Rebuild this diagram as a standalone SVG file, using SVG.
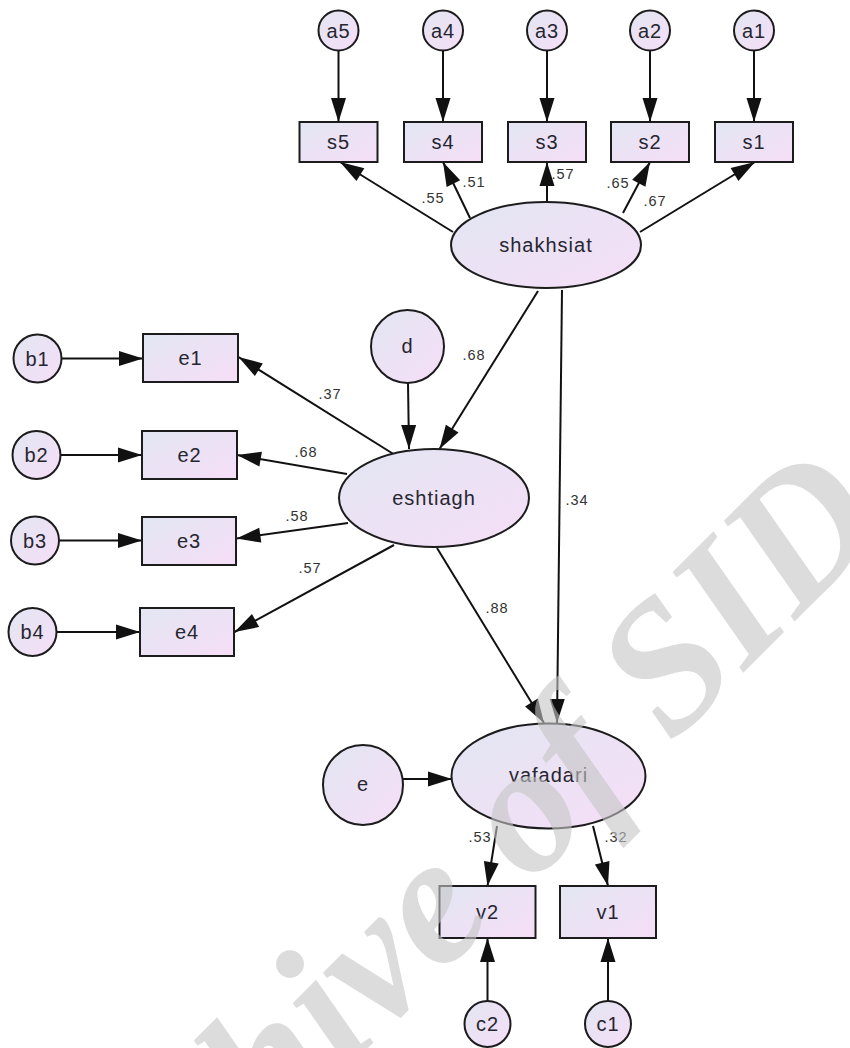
<svg xmlns="http://www.w3.org/2000/svg" width="850" height="1048" viewBox="0 0 850 1048">
<defs>
<linearGradient id="fill" x1="0" y1="0" x2="1" y2="1">
<stop offset="0" stop-color="#e2e6f2"/>
<stop offset="1" stop-color="#f6def7"/>
</linearGradient>
<marker id="arr" markerUnits="userSpaceOnUse" markerWidth="25" markerHeight="16" refX="24" refY="7.5" orient="auto" overflow="visible">
<path d="M0,0 L24,7.5 L0,15 Z" fill="#111"/>
</marker>
</defs>
<style>
.n{fill:url(#fill);stroke:#1c1c1c;stroke-width:2}
.t{font-family:"Liberation Sans",Arial,sans-serif;font-size:20px;fill:#262630;text-anchor:middle;letter-spacing:1px}
.c line{stroke:#111;stroke-width:2;marker-end:url(#arr)}
.l{font-family:"Liberation Sans",Arial,sans-serif;font-size:14.5px;fill:#333;text-anchor:middle;letter-spacing:1px}
.wm{font-family:"Liberation Serif","Times New Roman",serif;font-size:185px;font-weight:bold;font-style:italic;fill:#c4c4c4;fill-opacity:0.6}
</style>
<rect width="850" height="1048" fill="#fff"/>

<g id="connectors" class="c">
<line x1="338.5" y1="50.5" x2="338.5" y2="122"/>
<line x1="443" y1="50.5" x2="443" y2="122"/>
<line x1="547" y1="50.5" x2="547" y2="122"/>
<line x1="650" y1="50.5" x2="650" y2="122"/>
<line x1="754" y1="50.5" x2="754" y2="122"/>
<line x1="453" y1="232" x2="340" y2="162"/>
<line x1="470" y1="218" x2="443" y2="162"/>
<line x1="547" y1="202" x2="547" y2="162"/>
<line x1="623" y1="213" x2="650" y2="162"/>
<line x1="640" y1="232" x2="755" y2="162"/>
<line x1="61.5" y1="358.5" x2="143" y2="358.5"/>
<line x1="60.5" y1="455" x2="142" y2="455"/>
<line x1="59" y1="540.5" x2="142" y2="540.5"/>
<line x1="56.5" y1="632" x2="140" y2="632"/>
<line x1="408" y1="383" x2="409" y2="449"/>
<line x1="395" y1="455" x2="238.5" y2="357"/>
<line x1="347" y1="474" x2="237" y2="455"/>
<line x1="348" y1="523" x2="236.5" y2="538.5"/>
<line x1="394" y1="545" x2="234.5" y2="632"/>
<line x1="538" y1="291" x2="439.5" y2="449"/>
<line x1="562" y1="290" x2="557" y2="723"/>
<line x1="437" y1="548" x2="544" y2="723"/>
<line x1="403" y1="779" x2="452" y2="779"/>
<line x1="497" y1="826" x2="487.5" y2="886"/>
<line x1="593" y1="826" x2="608" y2="886"/>
<line x1="487.5" y1="1001" x2="487.5" y2="938"/>
<line x1="608" y1="1001" x2="608" y2="938"/>
</g>

<g id="coef-labels">
<text class="l" x="433" y="203">.55</text>
<text class="l" x="474" y="187">.51</text>
<text class="l" x="563" y="179">.57</text>
<text class="l" x="618" y="188">.65</text>
<text class="l" x="655" y="206">.67</text>
<text class="l" x="330" y="399">.37</text>
<text class="l" x="306" y="457">.68</text>
<text class="l" x="297" y="521">.58</text>
<text class="l" x="310" y="573">.57</text>
<text class="l" x="474" y="360">.68</text>
<text class="l" x="577" y="505">.34</text>
<text class="l" x="497" y="613">.88</text>
<text class="l" x="480" y="842">.53</text>
<text class="l" x="616" y="842">.32</text>
</g>

<g id="a5"><circle class="n" cx="338.5" cy="30.5" r="20"/><text class="t" x="338.5" y="37.5">a5</text></g>
<g id="a4"><circle class="n" cx="443" cy="30.5" r="20"/><text class="t" x="443" y="37.5">a4</text></g>
<g id="a3"><circle class="n" cx="547" cy="30.5" r="20"/><text class="t" x="547" y="37.5">a3</text></g>
<g id="a2"><circle class="n" cx="650" cy="30.5" r="20"/><text class="t" x="650" y="37.5">a2</text></g>
<g id="a1"><circle class="n" cx="754" cy="30.5" r="20"/><text class="t" x="754" y="37.5">a1</text></g>

<g id="s5"><rect class="n" x="299.5" y="122" width="78" height="40"/><text class="t" x="338.5" y="149">s5</text></g>
<g id="s4"><rect class="n" x="404" y="122" width="78" height="40"/><text class="t" x="443" y="149">s4</text></g>
<g id="s3"><rect class="n" x="508" y="122" width="78" height="40"/><text class="t" x="547" y="149">s3</text></g>
<g id="s2"><rect class="n" x="611" y="122" width="78" height="40"/><text class="t" x="650" y="149">s2</text></g>
<g id="s1"><rect class="n" x="715" y="122" width="78" height="40"/><text class="t" x="754" y="149">s1</text></g>

<g id="shakhsiat"><ellipse class="n" cx="546" cy="245" rx="95" ry="43"/><text class="t" x="546" y="252">shakhsiat</text></g>

<g id="b1"><circle class="n" cx="37.5" cy="358.5" r="24"/><text class="t" x="37.5" y="365.5">b1</text></g>
<g id="b2"><circle class="n" cx="36.5" cy="455" r="24"/><text class="t" x="36.5" y="462">b2</text></g>
<g id="b3"><circle class="n" cx="35" cy="540.5" r="24"/><text class="t" x="35" y="547.5">b3</text></g>
<g id="b4"><circle class="n" cx="32.5" cy="632" r="24"/><text class="t" x="32.5" y="639">b4</text></g>

<g id="e1"><rect class="n" x="143" y="334" width="95" height="48"/><text class="t" x="190.5" y="365">e1</text></g>
<g id="e2"><rect class="n" x="142" y="431" width="95" height="48"/><text class="t" x="189.5" y="462">e2</text></g>
<g id="e3"><rect class="n" x="142" y="517" width="94" height="48"/><text class="t" x="189" y="548">e3</text></g>
<g id="e4"><rect class="n" x="140" y="608" width="94" height="48"/><text class="t" x="187" y="639">e4</text></g>

<g id="d"><circle class="n" cx="407.5" cy="346.5" r="36.5"/><text class="t" x="407.5" y="353">d</text></g>

<g id="eshtiagh"><ellipse class="n" cx="434" cy="498" rx="95" ry="49"/><text class="t" x="434" y="505">eshtiagh</text></g>

<g id="e"><circle class="n" cx="363" cy="785" r="40"/><text class="t" x="363" y="791">e</text></g>

<g id="vafadari"><ellipse class="n" cx="548.5" cy="776" rx="97" ry="52.5"/><text class="t" x="548.5" y="782">vafadari</text></g>

<g id="v2"><rect class="n" x="439.5" y="886" width="96" height="52"/><text class="t" x="487.5" y="919">v2</text></g>
<g id="v1"><rect class="n" x="560" y="886" width="96" height="52"/><text class="t" x="608" y="919">v1</text></g>

<g id="c2"><circle class="n" cx="487.5" cy="1024" r="23"/><text class="t" x="487.5" y="1031">c2</text></g>
<g id="c1"><circle class="n" cx="608" cy="1024" r="23"/><text class="t" x="608" y="1031">c1</text></g>

<text class="wm" transform="translate(76,1340) rotate(-45)">Archive of SID</text>
</svg>
